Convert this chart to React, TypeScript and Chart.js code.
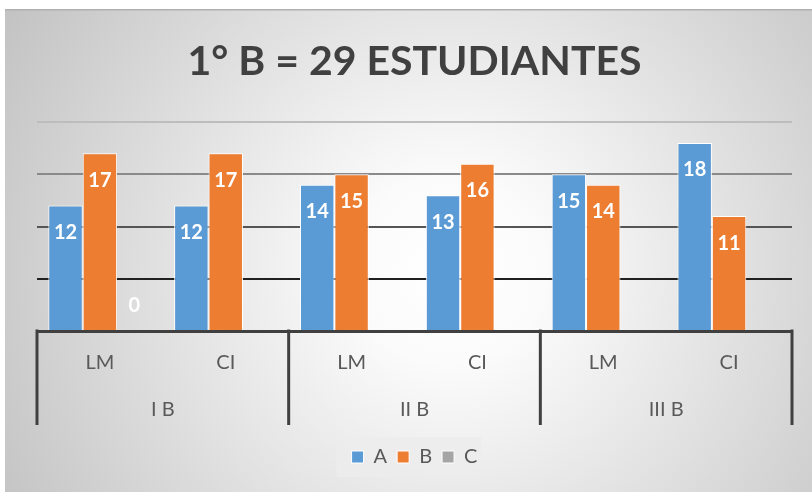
import React, { useEffect, useRef } from "react";
import { Chart, registerables } from "chart.js";

Chart.register(...registerables);

const titleText = "1° B = 29 ESTUDIANTES";
const categories = ["LM", "CI", "LM", "CI", "LM", "CI"];
const groups = ["I B", "II B", "III B"];
const seriesNames = ["A", "B", "C"];
const seriesA = [12, 12, 14, 13, 15, 18];
const seriesB = [17, 17, 15, 16, 14, 11];
const seriesC: (number | null)[] = [0, null, null, null, null, null];
const yMax = 20;
const yStep = 5;

const FONT = "Lato, 'Open Sans', sans-serif";

const bgPlugin = {
  id: "bgPlugin",
  beforeDraw(chart: any) {
    const { ctx, width, height } = chart;
    ctx.save();
    ctx.fillStyle = "#ffffff";
    ctx.fillRect(0, 0, width, height);
    const g = ctx.createRadialGradient(450, 270, 0, 450, 270, 520);
    g.addColorStop(0, "#ffffff");
    g.addColorStop(0.18, "#fbfbfb");
    g.addColorStop(1, "#c2c2c2");
    ctx.fillStyle = g;
    ctx.fillRect(5, 9, width - 5, height - 9);
    ctx.fillStyle = "#b0b0b0";
    ctx.fillRect(5, 9, width - 5, 1.5);
    const lg = chart.legend;
    if (lg && lg.legendHitBoxes && lg.legendHitBoxes.length) {
      const boxes = lg.legendHitBoxes;
      const left = boxes[0].left - 15;
      const last = boxes[boxes.length - 1];
      const right = last.left + last.width + 4;
      const cy = boxes[0].top + boxes[0].height / 2;
      ctx.fillStyle = "rgba(236,236,236,0.85)";
      ctx.fillRect(left, cy - 20, right - left, 40);
    }
    ctx.restore();
  },
};

const separatorPlugin = {
  id: "separatorPlugin",
  afterDraw(chart: any) {
    const xs = chart.scales.x;
    const x2 = chart.scales.x2;
    const { ctx } = chart;
    const w = (xs.right - xs.left) / categories.length;
    const perGroup = categories.length / groups.length;
    ctx.save();
    ctx.strokeStyle = "#404040";
    ctx.lineWidth = 3;
    for (let i = 0; i <= groups.length; i++) {
      let x: number;
      if (i === groups.length) x = xs.getPixelForValue(categories.length - 1) + w / 2;
      else x = xs.getPixelForValue(i * perGroup) - w / 2;
      ctx.beginPath();
      ctx.moveTo(x, xs.top - 1.5);
      ctx.lineTo(x, x2.top + 50);
      ctx.stroke();
    }
    ctx.restore();
  },
};

const labelPlugin = {
  id: "labelPlugin",
  afterDatasetsDraw(chart: any) {
    const { ctx } = chart;
    ctx.save();
    ctx.fillStyle = "#ffffff";
    ctx.font = `bold 20px ${FONT}`;
    ctx.textAlign = "center";
    ctx.textBaseline = "middle";
    chart.data.datasets.forEach((ds: any, di: number) => {
      const meta = chart.getDatasetMeta(di);
      meta.data.forEach((el: any, i: number) => {
        const v = ds.data[i];
        if (v === null || v === undefined) return;
        const y = v > 0 ? el.y + 27 : el.y - 25;
        ctx.fillText(String(v), el.x, y);
      });
    });
    ctx.restore();
  },
};

const gridColor = (v: number) => {
  if (v === 20) return "#bdbdbd";
  if (v === 15) return "#8a8a8a";
  if (v === 10) return "#555555";
  if (v === 5) return "#202020";
  return "rgba(0,0,0,0)";
};

export default function App() {
  const ref = useRef<HTMLCanvasElement | null>(null);
  useEffect(() => {
    if (!ref.current) return;
    const chart = new Chart(ref.current, {
      type: "bar",
      data: {
        labels: categories,
        datasets: [
          { label: seriesNames[0], data: seriesA, backgroundColor: "#5B9BD5", borderColor: "#ffffff", borderWidth: 1 },
          { label: seriesNames[1], data: seriesB, backgroundColor: "#ED7D31", borderColor: "#ffffff", borderWidth: 1 },
          { label: seriesNames[2], data: seriesC, backgroundColor: "#A5A5A5", borderColor: "#ffffff", borderWidth: 1 },
        ],
      },
      options: {
        responsive: false,
        animation: false,
        devicePixelRatio: 1,
        categoryPercentage: 0.82,
        barPercentage: 1,
        layout: { padding: { left: 37, right: 20, top: 0, bottom: 15 } },
        plugins: {
          title: {
            display: true,
            text: titleText,
            color: "#404040",
            font: { family: FONT, size: 41, weight: "bold" },
            padding: { top: 37.4, bottom: 35.4 },
          },
          legend: {
            position: "bottom",
            labels: {
              color: "#595959",
              font: { family: FONT, size: 20 },
              boxWidth: 12,
              boxHeight: 12,
              padding: 10,
            },
          },
          tooltip: { enabled: false },
        },
        scales: {
          x: {
            type: "category",
            position: "bottom",
            grid: { display: false, drawTicks: false },
            border: { display: true, color: "#404040", width: 3 },
            ticks: { color: "#595959", font: { family: FONT, size: 20 }, padding: 20, maxRotation: 0, autoSkip: false },
            afterFit: (scale: any) => {
              scale.height = 44;
            },
          },
          x2: {
            type: "category",
            position: "bottom",
            labels: groups,
            offset: true,
            grid: { display: false, drawTicks: false },
            border: { display: false },
            ticks: { color: "#595959", font: { family: FONT, size: 20 }, padding: 23, maxRotation: 0, autoSkip: false },
            afterFit: (scale: any) => {
              scale.height = 62;
            },
          },
          y: {
            min: 0,
            max: yMax,
            ticks: { display: false, stepSize: yStep },
            grid: {
              drawTicks: false,
              lineWidth: 2,
              color: (c: any) => gridColor(c.tick ? c.tick.value : -1),
            },
            border: { display: false },
          },
        },
      } as any,
      plugins: [bgPlugin, labelPlugin, separatorPlugin],
    });
    return () => chart.destroy();
  }, []);
  return (
    <div style={{ position: "fixed", left: 0, top: 0, width: 812, height: 492 }}>
      <canvas ref={ref} width={812} height={492} style={{ display: "block" }} />
    </div>
  );
}
